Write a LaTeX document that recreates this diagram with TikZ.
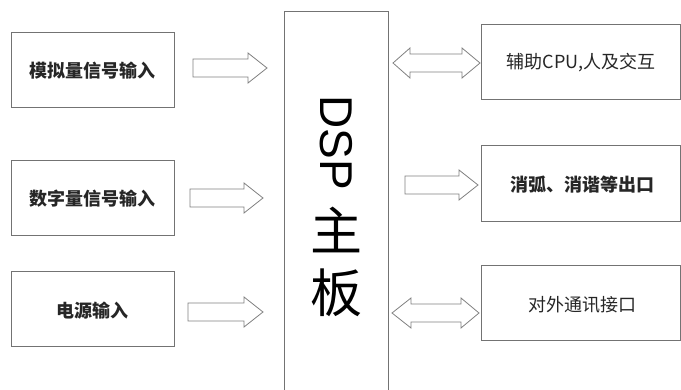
\documentclass[tikz,border=0pt]{standalone}
\usepackage{fontspec}
\setmainfont{Noto Sans CJK SC}
\newfontfamily\cjk{Noto Sans CJK SC}
\newfontfamily\latinsans{Liberation Sans}
\begin{document}
\begin{tikzpicture}[x=1pt,y=-1pt,
  blk/.style={draw=black!55,line width=0.9pt,inner sep=0pt},
  lbl/.style={font=\cjk\fontsize{18}{20}\selectfont,text=black!85},
  blbl/.style={font=\cjk\bfseries\fontsize{18}{20}\selectfont,text=black!85},
  arr/.style={draw=black!50,line width=0.8pt,fill=white,line join=miter}]
\useasboundingbox (0,0) rectangle (681,390);
% left boxes
\draw[blk] (11,32) rectangle (174,107);
\draw[blk] (11,160) rectangle (174,235);
\draw[blk] (11,271) rectangle (174,346);
\node[blbl] (a) at (92.5,71) {模拟量信号输入};
\node[blbl] (b) at (92.5,199) {数字量信号输入};
\node[blbl] (c) at (92.5,311) {电源输入};
% DSP board
\draw[blk] (284,392) -- (284,11) -- (388,11) -- (388,392);
\node[rotate=-90,font=\latinsans\fontsize{46}{50}\selectfont,inner sep=0pt] (dsp) at (336,143) {DSP};
\node[font=\cjk\fontsize{52}{54}\selectfont,inner sep=0pt] (zhu) at (336,230) {主};
\node[font=\cjk\fontsize{52}{54}\selectfont,inner sep=0pt] (ban) at (336,293) {板};
% right boxes
\draw[blk] (481,24) rectangle (680,99);
\draw[blk] (481,145) rectangle (680,221);
\draw[blk] (481,265) rectangle (680,340);
\node[lbl] (d) at (581,63) {辅助CPU,人及交互};
\node[blbl] (e) at (582,185) {消弧、消谐等出口};
\node[lbl] (f) at (582,305) {对外通讯接口};
% arrows
\def\sarrow#1#2#3#4{\draw[arr] (#1,#4-9) -- (#2,#4-9) -- (#2,#4-15) -- (#3,#4) -- (#2,#4+15) -- (#2,#4+9) -- (#1,#4+9) -- cycle;}
\def\darrow#1#2#3#4#5{\draw[arr] (#1,#5) -- (#2,#5-15) -- (#2,#5-9) -- (#3,#5-9) -- (#3,#5-15) -- (#4,#5) -- (#3,#5+15) -- (#3,#5+9) -- (#2,#5+9) -- (#2,#5+15) -- cycle;}
\sarrow{193}{248}{267}{68}
\sarrow{190}{244}{263}{198}
\sarrow{188}{244}{263}{312}
\sarrow{405}{459}{478}{185}
\darrow{393}{410}{462}{480}{63}
\darrow{392}{411}{461}{479}{313}
\end{tikzpicture}
\end{document}
